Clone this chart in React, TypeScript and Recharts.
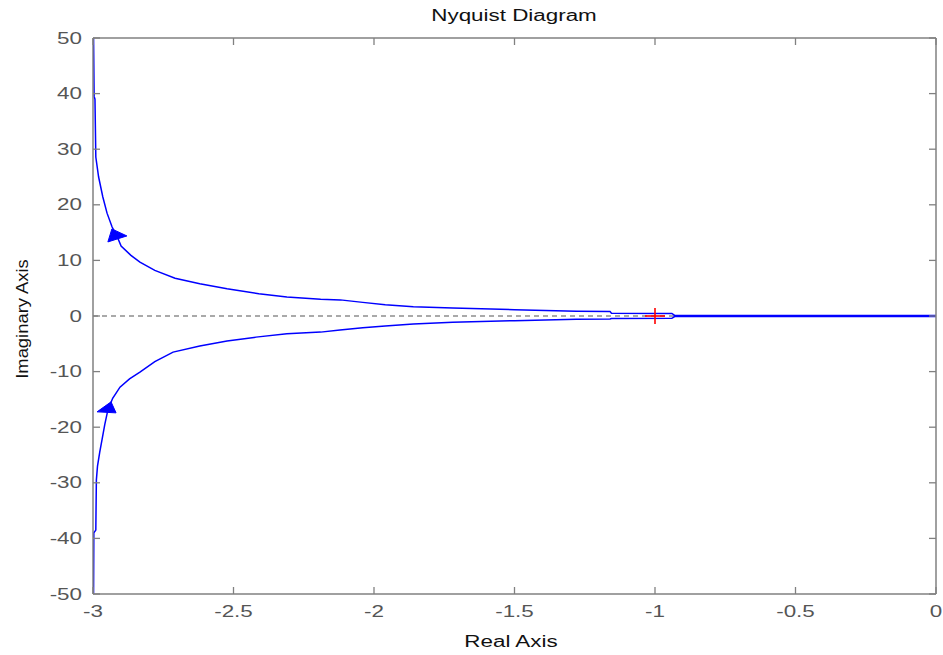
import React from 'react';
import { ComposedChart, Line, Scatter, XAxis, YAxis, ReferenceLine } from 'recharts';

const realTicks = [-3, -2.5, -2, -1.5, -1, -0.5, 0];
const imagTicks = [-50, -40, -30, -20, -10, 0, 10, 20, 30, 40, 50];

const upperRe = [-2.999, -2.998, -2.996, -2.993, -2.99, -2.98, -2.965, -2.95, -2.932, -2.915, -2.9, -2.865, -2.833, -2.78, -2.708, -2.62, -2.523, -2.41, -2.31, -2.19, -2.12, -2.04, -1.96, -1.86, -1.72, -1.5, -1.28, -1.16, -1.155, -0.94, -0.93, 0];
const upperIm = [80, 50, 39.5, 39, 28.6, 25, 21.4, 18.5, 16, 14.4, 12.6, 10.9, 9.7, 8.2, 6.8, 5.8, 4.9, 4.0, 3.4, 3.0, 2.9, 2.45, 2.03, 1.67, 1.44, 1.13, 0.84, 0.8, 0.5, 0.45, 0.1, 0.1];

const lowerRe = [-2.999, -2.998, -2.997, -2.99, -2.988, -2.984, -2.976, -2.968, -2.958, -2.947, -2.93, -2.904, -2.87, -2.833, -2.78, -2.715, -2.62, -2.523, -2.42, -2.31, -2.19, -2.121, -2.04, -1.96, -1.86, -1.72, -1.5, -1.28, -1.16, -1.155, -0.94, -0.93, 0];
const lowerIm = [-80, -50, -39, -38.5, -29.5, -27, -24.5, -22.3, -19.5, -16.9, -14.8, -12.8, -11.3, -10.1, -8.2, -6.5, -5.4, -4.5, -3.8, -3.2, -2.9, -2.5, -2.1, -1.8, -1.44, -1.13, -0.84, -0.6, -0.55, -0.45, -0.42, -0.1, -0.1];

const arrowRe = [-2.915, -2.95];
const arrowIm = [14.4, -16.7];
const arrowSide = ['upper', 'lower'];

const criticalRe = [-1];
const criticalIm = [0];

const upperData = upperRe.map((x, i) => ({ x, y: upperIm[i] }));
const lowerData = lowerRe.map((x, i) => ({ x, y: lowerIm[i] }));
const arrowData = arrowRe.map((x, i) => ({ x, y: arrowIm[i], side: arrowSide[i] }));
const criticalData = criticalRe.map((x, i) => ({ x, y: criticalIm[i] }));

const FONT = '"Liberation Sans", Arial, sans-serif';
const SX = 1.4;
const FS = 16;

function StretchText({ x, y, anchor = 'middle', fill = '#555', rotate = 0, sx = SX, size = FS, children }: any) {
  return (
    <text
      transform={`translate(${x} ${y}) rotate(${rotate}) scale(${sx} 1)`}
      textAnchor={anchor}
      fontFamily={FONT}
      fontSize={size}
      fill={fill}
    >
      {children}
    </text>
  );
}

const YTick = (props: any) => {
  const { x, y, payload } = props;
  return (
    <StretchText x={x - 18} y={y + 5.5} anchor="end">
      {String(payload.value)}
    </StretchText>
  );
};

const XTick = (props: any) => {
  const { x, y, payload } = props;
  return (
    <StretchText x={x} y={y + 30} anchor="middle">
      {String(payload.value)}
    </StretchText>
  );
};

const NoTick = () => <g />;

const ArrowShape = (props: any) => {
  const { cx, cy, payload } = props;
  const pts = payload.side === 'upper'
    ? [[-5, -7], [-9, 6], [10, 0]]
    : [[-10, 3], [4, -7], [9, 4]];
  const d = pts.map((p) => `${cx + p[0]},${cy + p[1]}`).join(' ');
  return <polygon points={d} fill="#0000ff" stroke="#0000ff" strokeWidth={1} />;
};

const PlusShape = (props: any) => {
  const { cx, cy } = props;
  return (
    <g stroke="#ff0000" strokeWidth={1.6}>
      <line x1={cx - 10} y1={cy} x2={cx + 10} y2={cy} />
      <line x1={cx} y1={cy - 8} x2={cx} y2={cy + 8} />
    </g>
  );
};

const axisStroke = '#808080';

export default function App() {
  return (
    <div style={{ position: 'absolute', left: 0, top: 0, width: 943, height: 655, background: '#fff' }}>
      <ComposedChart width={943} height={655} margin={{ top: 0, right: 0, bottom: 0, left: 0 }}>
        <XAxis
          xAxisId="bottom"
          type="number"
          dataKey="x"
          domain={[-3, 0]}
          allowDataOverflow
          ticks={realTicks}
          orientation="bottom"
          height={61}
          tickSize={-7}
          tickMargin={0}
          tick={XTick}
          axisLine={{ stroke: axisStroke, strokeWidth: 1.5 }}
          tickLine={{ stroke: axisStroke, strokeWidth: 1.3 }}
          interval={0}
        />
        <XAxis
          xAxisId="top"
          type="number"
          dataKey="x"
          domain={[-3, 0]}
          allowDataOverflow
          ticks={realTicks}
          orientation="top"
          height={38}
          tickSize={-7}
          tickMargin={0}
          tick={NoTick}
          axisLine={{ stroke: axisStroke, strokeWidth: 1.5 }}
          tickLine={{ stroke: axisStroke, strokeWidth: 1.3 }}
          interval={0}
        />
        <YAxis
          yAxisId="left"
          type="number"
          domain={[-50, 50]}
          allowDataOverflow
          ticks={imagTicks}
          orientation="left"
          width={93}
          tickSize={-7}
          tickMargin={0}
          tick={YTick}
          axisLine={{ stroke: axisStroke, strokeWidth: 1.5 }}
          tickLine={{ stroke: axisStroke, strokeWidth: 1.3 }}
          interval={0}
        />
        <YAxis
          yAxisId="right"
          type="number"
          domain={[-50, 50]}
          allowDataOverflow
          ticks={imagTicks}
          orientation="right"
          width={7}
          tickSize={-7}
          tickMargin={0}
          tick={NoTick}
          axisLine={{ stroke: axisStroke, strokeWidth: 1.5 }}
          tickLine={{ stroke: axisStroke, strokeWidth: 1.3 }}
          interval={0}
        />
        <ReferenceLine
          xAxisId="bottom"
          yAxisId="left"
          y={0}
          stroke="#555"
          strokeWidth={1.2}
          strokeDasharray="5 4"
        />
        <Line
          xAxisId="bottom"
          yAxisId="left"
          data={upperData}
          dataKey="y"
          type="linear"
          stroke="#0000ff"
          strokeWidth={1.5}
          dot={false}
          activeDot={false}
          isAnimationActive={false}
        />
        <Line
          xAxisId="bottom"
          yAxisId="left"
          data={lowerData}
          dataKey="y"
          type="linear"
          stroke="#0000ff"
          strokeWidth={1.5}
          dot={false}
          activeDot={false}
          isAnimationActive={false}
        />
        <Scatter
          xAxisId="bottom"
          yAxisId="left"
          data={arrowData}
          dataKey="y"
          shape={ArrowShape}
          isAnimationActive={false}
        />
        <Scatter
          xAxisId="bottom"
          yAxisId="left"
          data={criticalData}
          dataKey="y"
          shape={PlusShape}
          isAnimationActive={false}
        />
      </ComposedChart>
      <svg
        width={943}
        height={655}
        style={{ position: 'absolute', left: 0, top: 0, pointerEvents: 'none' }}
      >
        <StretchText x={514} y={21} anchor="middle" fill="#111">Nyquist Diagram</StretchText>
        <StretchText x={511} y={647} anchor="middle" fill="#111">Real Axis</StretchText>
        <StretchText x={28} y={319} anchor="middle" fill="#111" rotate={-90} sx={1.15}>Imaginary Axis</StretchText>
      </svg>
    </div>
  );
}
